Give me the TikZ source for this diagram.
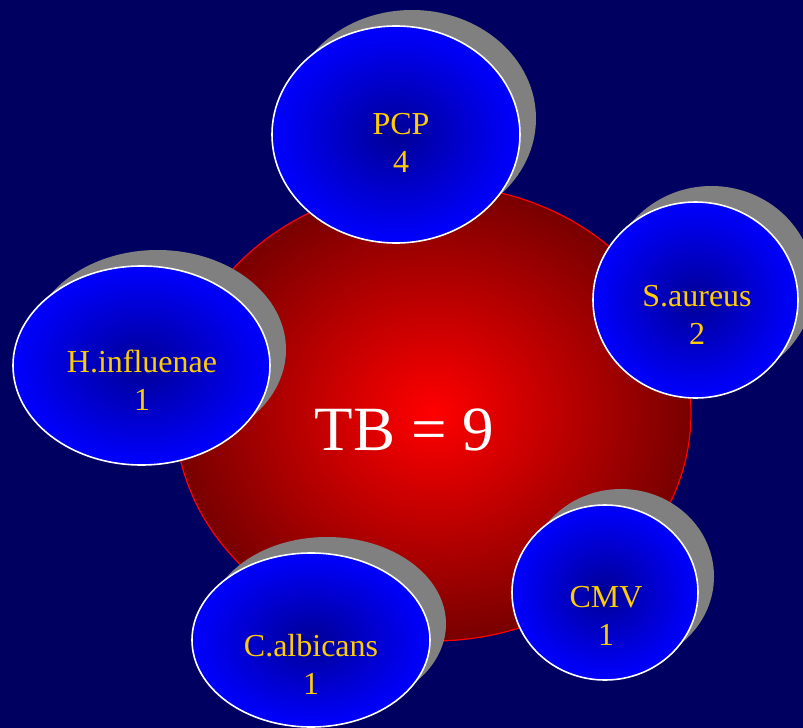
\documentclass[tikz,border=0pt]{standalone}
\usepackage{fontspec}
\setmainfont{Liberation Serif}
\usetikzlibrary{shapes.geometric,shadows}

\definecolor{slide}{RGB}{0,0,96}
\definecolor{gold}{RGB}{255,204,0}
\definecolor{bubbleblue}{RGB}{0,0,255}
\definecolor{bubbledark}{RGB}{0,0,150}
\definecolor{discred}{RGB}{255,0,0}
\definecolor{discdark}{RGB}{120,0,0}

\begin{document}
\begin{tikzpicture}
        [
            x                = 1pt,
            y                = -1pt,
            bubble/.style    = {shape=ellipse, inner sep=0pt, draw=white, line width=1.6pt,
                                inner color=bubbledark, outer color=bubbleblue,
                                drop shadow={shadow xshift=16pt, shadow yshift=16pt, fill=gray, opacity=1}},
            disc/.style      = {shape=ellipse, inner sep=0pt, draw=discred, line width=1.2pt,
                                inner color=discred, outer color=discdark},
            count/.style     = {align=center, text=gold, inner sep=0pt, font=\fontsize{32}{38}\selectfont},
        ]
        \fill [slide] (0,0) rectangle (803,728);
        \clip (0,0) rectangle (803,728);
        \node [disc, minimum width=516pt, minimum height=456pt] (tb) at (433,413) {};
        \node [text=white, inner sep=0pt, anchor=base, font=\fontsize{63}{70}\selectfont] (tb-text) at (404.5,450) {TB = 9};
        \node [bubble, minimum width=248pt, minimum height=217pt] (pcp) at (396,134.5) {};
        \node [bubble, minimum width=257pt, minimum height=199pt] (hinf) at (141.5,365.5) {};
        \node [bubble, minimum width=205pt, minimum height=196pt] (saur) at (695.5,300) {};
        \node [bubble, minimum width=238pt, minimum height=174pt] (calb) at (311,640) {};
        \node [bubble, minimum width=186pt, minimum height=175pt] (cmv) at (605,592.5) {};
        \node [count] (pcp-text) at (401,143) {PCP\\4};
        \node [count] (hinf-text) at (142,380) {H.influenae\\1};
        \node [count] (saur-text) at (697,315) {S.aureus\\2};
        \node [count] (calb-text) at (311,664) {C.albicans\\1};
        \node [count] (cmv-text) at (606,616) {CMV\\1};
    \end{tikzpicture}
\end{document}
